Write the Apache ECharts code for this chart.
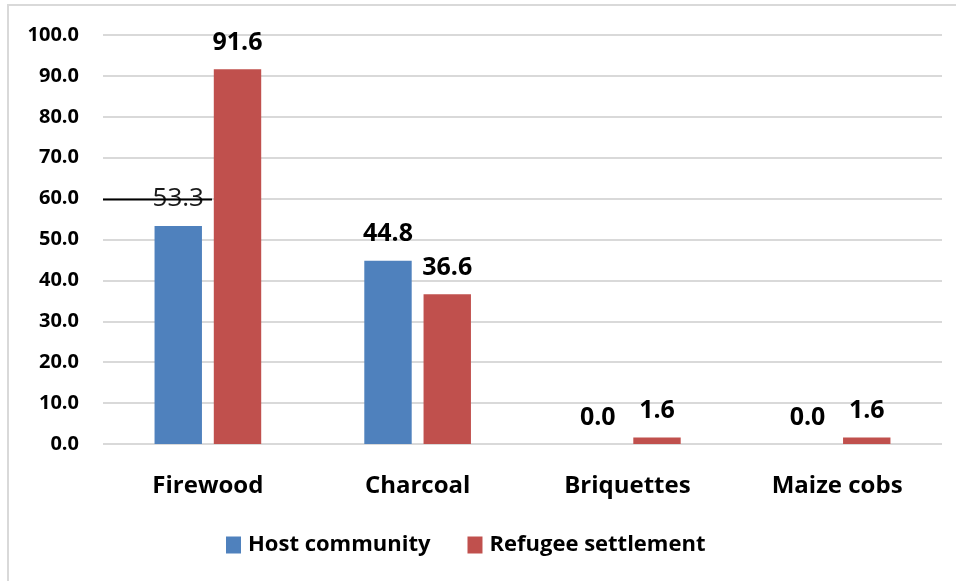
<!DOCTYPE html>
<html>
<head>
<meta charset="utf-8">
<title>Cooking fuel by household type</title>
<script src="https://cdn.jsdelivr.net/npm/echarts@6/dist/echarts.min.js"></script>
<style>
  html, body { margin: 0; padding: 0; background: #ffffff; }
  #chart { width: 956px; height: 581px; }
</style>
</head>
<body>
<div id="chart"></div>
<script>
// Share of households using each cooking fuel (%)
const categories = ['Firewood', 'Charcoal', 'Briquettes', 'Maize cobs'];
const hostCommunity = [53.3, 44.8, 0.0, 0.0];
const refugeeSettlement = [91.6, 36.6, 1.6, 1.6];
const seriesNames = ['Host community', 'Refugee settlement'];
const yTicks = { min: 0, max: 100, interval: 10 };

const FONT = '"Open Sans", Lato, "Liberation Sans", sans-serif';
const BLUE = '#4F81BD';
const RED = '#C0504D';

const chart = echarts.init(document.getElementById('chart'), null, { renderer: 'canvas' });

const valueLabel = {
  show: true,
  position: 'top',
  distance: 14,
  fontFamily: FONT,
  fontSize: 25,
  fontWeight: 'bold',
  color: '#000000',
  formatter: p => Number(p.value).toFixed(1)
};

// The first host-community label is set in regular weight
const hostData = hostCommunity.map((v, i) => i === 0
  ? { value: v, label: { fontWeight: 'normal', fontSize: 26, color: '#1a1a1a' } }
  : v);

chart.setOption({
  animation: false,
  backgroundColor: '#ffffff',
  textStyle: { fontFamily: FONT },
  grid: { left: 103, right: 14, top: 35, bottom: 137, containLabel: false },
  legend: {
    data: seriesNames,
    left: 226,
    top: 534,
    padding: 0,
    itemWidth: 15,
    itemHeight: 17,
    itemGap: 37,
    icon: 'rect',
    textStyle: { fontFamily: FONT, fontSize: 22, fontWeight: 'bold', color: '#000000', padding: [0, 0, 0, 2] }
  },
  xAxis: {
    type: 'category',
    data: categories,
    axisLine: { show: false },
    axisTick: { show: false },
    axisLabel: { margin: 30, fontFamily: FONT, fontSize: 24, fontWeight: 'bold', color: '#000000' }
  },
  yAxis: {
    type: 'value',
    min: yTicks.min,
    max: yTicks.max,
    interval: yTicks.interval,
    axisLine: { show: false },
    axisTick: { show: false },
    splitLine: { lineStyle: { color: '#D9D9D9', width: 2 } },
    axisLabel: {
      margin: 24,
      fontFamily: FONT,
      fontSize: 20,
      fontWeight: 'bold',
      color: '#000000',
      formatter: v => v.toFixed(1)
    }
  },
  series: [
    {
      name: seriesNames[0],
      type: 'bar',
      data: hostData,
      barWidth: '22.6%',
      barGap: '25%',
      itemStyle: { color: BLUE },
      label: valueLabel
    },
    {
      name: seriesNames[1],
      type: 'bar',
      data: refugeeSettlement,
      barWidth: '22.6%',
      barGap: '25%',
      itemStyle: { color: RED },
      label: valueLabel
    }
  ]
});

// Chart frame and the dark rule drawn across the 60 line beside the first group
const y60 = chart.convertToPixel({ yAxisIndex: 0 }, 60);
chart.setOption({
  graphic: [
    {
      type: 'rect',
      shape: { x: 8, y: 5, width: 960, height: 600 },
      style: { fill: null, stroke: '#D9D9D9', lineWidth: 2 },
      silent: true,
      z: -1
    },
    {
      type: 'line',
      shape: { x1: 103, y1: y60 + 1, x2: 212, y2: y60 + 1 },
      style: { stroke: '#000000', lineWidth: 2 },
      silent: true,
      z: 100
    }
  ]
});
</script>
</body>
</html>
